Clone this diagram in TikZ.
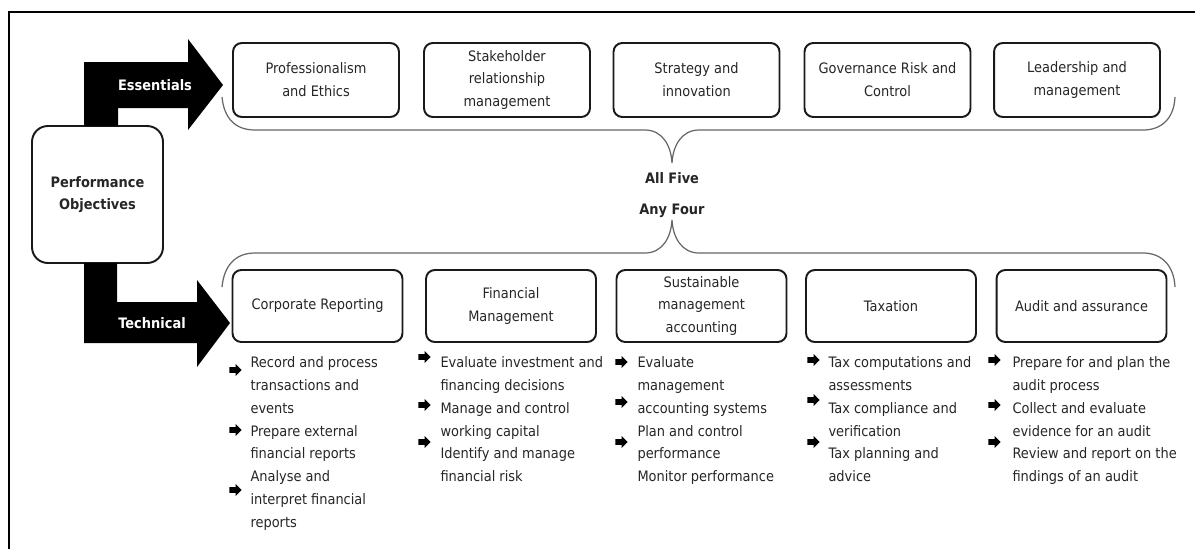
\documentclass[tikz,border=0pt]{standalone}
\usepackage{fontspec}
\setmainfont{DejaVu Sans}[FakeStretch=0.9]
\usetikzlibrary{positioning,shapes.arrows}

\begin{document}
\begin{tikzpicture}[x=0.02cm, y=-0.02cm, line width=0.6pt,
  txt/.style={font=\fontsize{8.2}{13}\selectfont, text=black!85, inner sep=0pt},
  head/.style={font=\fontsize{8.2}{13}\selectfont\bfseries},
  area/.style={txt, draw=black!90, line width=1.1pt, rounded corners=5pt, align=center},
  brace/.style={draw=black!60, line width=0.7pt},
  blt/.style={shape=single arrow, fill=black, inner xsep=0pt, inner ysep=1.4pt,
    minimum height=7pt, single arrow head extend=1.7pt}]
  \useasboundingbox (0,0) rectangle (1195,548);
  \draw[line width=1.2pt] (9,560) -- (9,12) -- (1210,12);

  % performance objectives and the two big arrows
  \node[area, head, rounded corners=9pt, minimum width=2.62cm, minimum height=2.74cm] (po) at (97.5,194.5) {Performance\\Objectives};
  \fill[black] (84,126) -- (84,62) -- (188,62) -- (188,39) -- (223,85) -- (188,130) -- (188,108) -- (118,108) -- (118,126) -- cycle;
  \fill[black] (84,263) -- (84,343) -- (197,343) -- (197,367) -- (230,323) -- (197,280) -- (197,302) -- (117,302) -- (117,263) -- cycle;
  \node[txt, head, text=white] (ess) at (155,85) {Essentials};
  \node[txt, head, text=white] (tech) at (152,323) {Technical};

  % essentials
  \foreach \n/\cx/\lbl in {1/316/{Professionalism\\and Ethics}, 2/507/{Stakeholder\\relationship\\management},
      3/696.5/{Strategy and\\innovation}, 4/887.5/{Governance Risk and\\Control}, 5/1077/{Leadership and\\management}}
    \node[area, minimum width=3.32cm, minimum height=1.48cm] (e\n) at (\cx,80) {\lbl};

  % technical
  \foreach \n/\cx/\lbl in {1/317.5/{Corporate Reporting}, 2/511/{Financial\\Management},
      3/701.5/{Sustainable\\management\\accounting}, 4/891/{Taxation}, 5/1081.5/{Audit and assurance}}
    \node[area, minimum width=3.4cm, minimum height=1.44cm] (t\n) at (\cx,306) {\lbl};

  % braces
  \draw[brace] (222,97) .. controls (224,118) and (235,130) .. (255,130) -- (645,130)
    .. controls (662,130) and (671,145) .. (672,163) .. controls (673,145) and (682,130) .. (699,130)
    -- (1143,130) .. controls (1162,130) and (1174,118) .. (1175,97);
  \draw[brace] (222,287) .. controls (224,266) and (235,253) .. (255,253) -- (645,253)
    .. controls (662,253) and (671,238) .. (672,220) .. controls (673,238) and (682,253) .. (699,253)
    -- (1143,253) .. controls (1162,253) and (1174,266) .. (1175,287);
  \node[txt, head] (five) at (672,178) {All Five};
  \node[txt, head] (four) at (672,211) {Any Four};

  % lists under the technical boxes
  \node[txt, align=left, anchor=north west] (l1) at (250,356) {Record and process\\transactions and\\events\\Prepare external\\financial reports\\Analyse and\\interpret financial\\reports};
  \node[txt, align=left, anchor=north west] (l2) at (440,356) {Evaluate investment and\\financing decisions\\Manage and control\\working capital\\Identify and manage\\financial risk};
  \node[txt, align=left, anchor=north west] (l3) at (637,356) {Evaluate\\management\\accounting systems\\Plan and control\\performance\\Monitor performance};
  \node[txt, align=left, anchor=north west] (l4) at (828,356) {Tax computations and\\assessments\\Tax compliance and\\verification\\Tax planning and\\advice};
  \node[txt, align=left, anchor=north west] (l5) at (1012,356) {Prepare for and plan the\\audit process\\Collect and evaluate\\evidence for an audit\\Review and report on the\\findings of an audit};

  \foreach \c/\bx/\ya/\yb/\yc in {1/234/370/430/490, 2/423/357/405/442, 3/620/362/402/442, 4/812/360/400/442, 5/993/360/405/442} {
    \node[blt] (b\c a) at (\bx,\ya) {};
    \node[blt] (b\c b) at (\bx,\yb) {};
    \node[blt] (b\c c) at (\bx,\yc) {};
  }
\end{tikzpicture}
\end{document}
